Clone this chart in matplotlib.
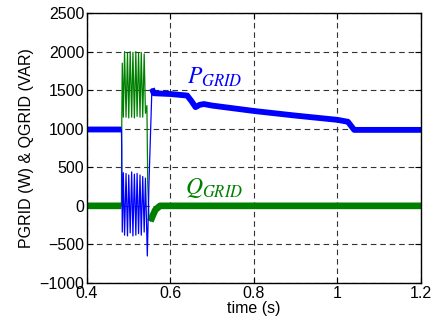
import numpy as np
import matplotlib
matplotlib.use("Agg")
import matplotlib.pyplot as plt

# ---- data ---------------------------------------------------------
# active power P_GRID (W)
t_p = [0.40, 0.4825, 0.4832, 0.4845, 0.487, 0.490, 0.4935, 0.497, 0.500,
       0.5035, 0.507, 0.510, 0.5135, 0.517, 0.520, 0.5235, 0.527, 0.530,
       0.5335, 0.537, 0.540, 0.5425, 0.5445, 0.5485, 0.5555, 0.560, 0.600,
       0.640, 0.650, 0.660, 0.670, 0.680, 0.700, 0.800, 0.900, 1.000,
       1.025, 1.040, 1.100, 1.200]
p_grid = [990, 990, 750, -340, 430, -380, 420, -390, 400, -350, 440, -390,
          410, -380, 420, -360, 400, -380, 380, -340, 360, -200, -650, 300,
          1520, 1460, 1450, 1430, 1360, 1280, 1310, 1320, 1300, 1230, 1170,
          1115, 1090, 985, 985, 985]

# reactive power Q_GRID (VAR)
t_q = [0.40, 0.4825, 0.4832, 0.4845, 0.487, 0.490, 0.4935, 0.497, 0.500,
       0.5035, 0.507, 0.510, 0.5135, 0.517, 0.520, 0.5235, 0.527, 0.530,
       0.5335, 0.537, 0.540, 0.5435, 0.5455, 0.5485, 0.552, 0.558, 0.564,
       0.575, 0.60, 0.80, 1.00, 1.20]
q_grid = [0, 0, 1000, 1850, 1150, 2000, 1150, 1980, 1140, 2000, 1150, 1990,
          1140, 2000, 1160, 1980, 1150, 1990, 1150, 1970, 1200, 1300, 300,
          -170, -200, -120, -50, 0, 0, 0, 0, 0]

BURST = (0.4828, 0.549)   # fast transient drawn with a thin trace

xticks = [0.4, 0.6, 0.8, 1.0, 1.2]
xtick_labels = ["0.4", "0.6", "0.8", "1", "1.2"]
yticks = [-1000, -500, 0, 500, 1000, 1500, 2000, 2500]

plt.rcParams["font.family"] = ["Liberation Sans", "DejaVu Sans"]
plt.rcParams["mathtext.fontset"] = "stix"


def split(t, v, lo, hi):
    t = np.asarray(t, float)
    v = np.asarray(v, float)
    thick = np.where((t > lo) & (t < hi), np.nan, v)
    return t, v, thick


fig = plt.figure(figsize=(4.45, 3.26), dpi=100)
ax = fig.add_axes([0.1955, 0.132, 0.7505, 0.828])

tq, vq, vq_thick = split(t_q, q_grid, *BURST)
tp, vp, vp_thick = split(t_p, p_grid, *BURST)

ax.plot(tq, vq, color="#008000", lw=0.9)
ax.plot(tq, vq_thick, color="#008000", lw=4.8, solid_capstyle="butt")
ax.plot(tp, vp, color="#0000ff", lw=0.9)
ax.plot(tp, vp_thick, color="#0000ff", lw=4.2, solid_capstyle="butt")

ax.text(0.64, 1580, "$P_{GRID}$", color="#0000ff", fontsize=17)
ax.text(0.635, 150, "$Q_{GRID}$", color="#008000", fontsize=17)

ax.set_xlim(0.4, 1.2)
ax.set_ylim(-1000, 2500)
ax.set_xticks(xticks)
ax.set_xticklabels(xtick_labels)
ax.set_yticks(yticks)
ax.tick_params(direction="in", top=True, right=True, labelsize=11.5,
               length=4, width=0.8, colors="black", pad=2)
ax.grid(True, color="#333333", lw=0.8, linestyle=(0, (5, 3.5)))
for s in ax.spines.values():
    s.set_linewidth(1.0)
ax.set_xlabel("time (s)", fontsize=11.5, labelpad=0)
ax.set_ylabel("PGRID (W) & QGRID (VAR)", fontsize=11.5, labelpad=4)

fig.savefig("out.png", dpi=100)
